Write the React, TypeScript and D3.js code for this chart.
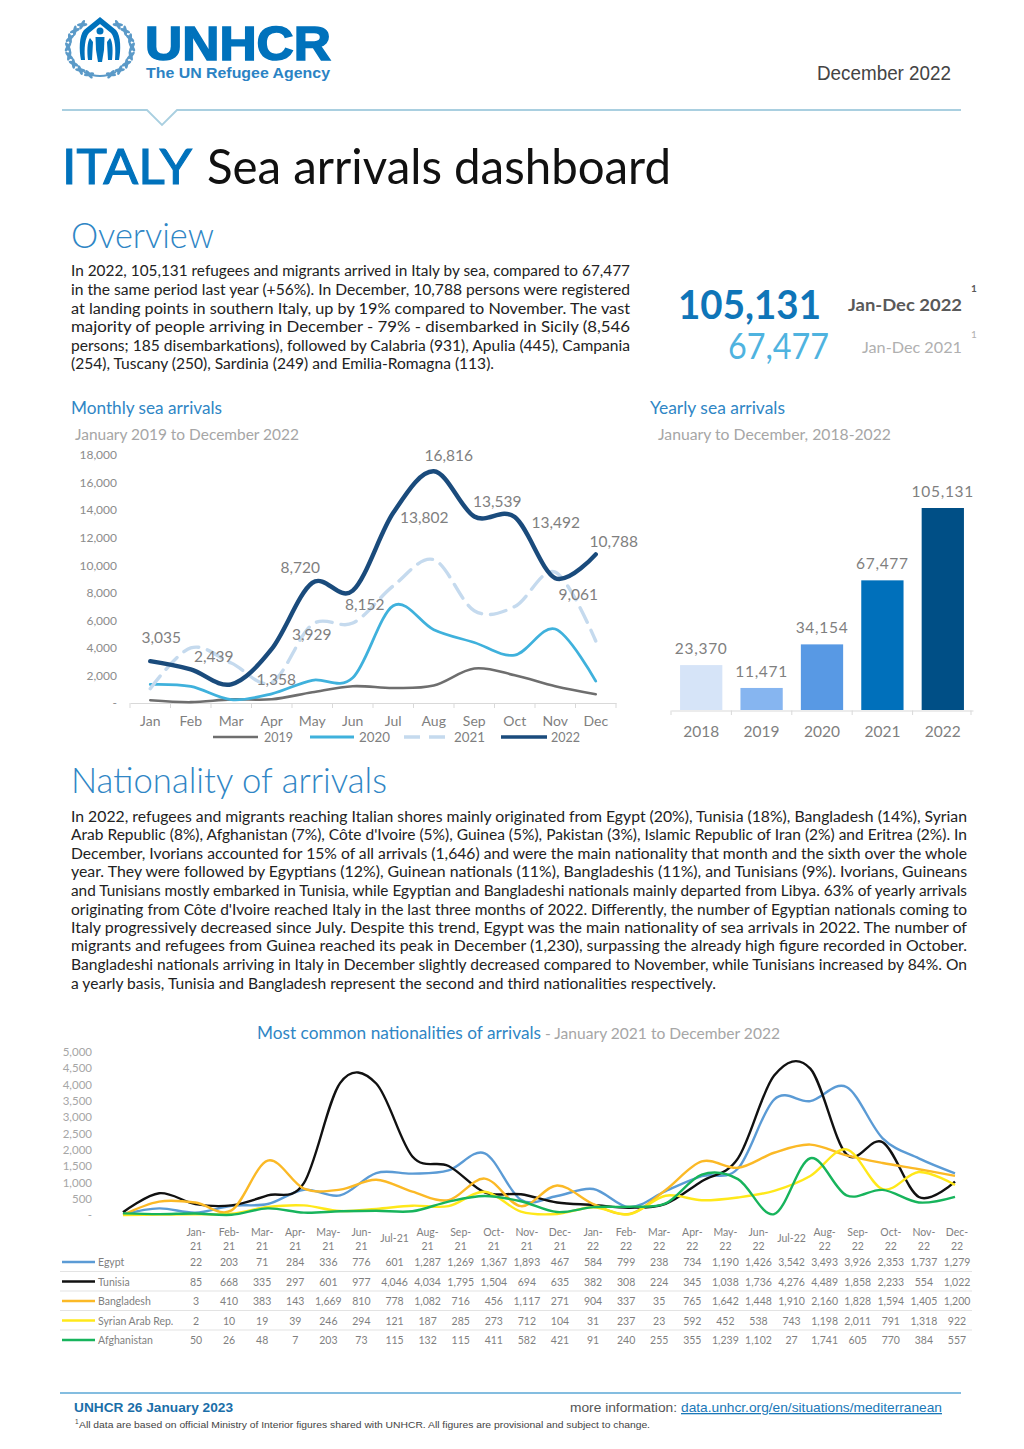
import React, { useEffect, useRef } from 'react';
import * as d3 from 'd3';

const monthNames = ['Jan', 'Feb', 'Mar', 'Apr', 'May', 'Jun', 'Jul', 'Aug', 'Sep', 'Oct', 'Nov', 'Dec'];
const arrivals2019 = [200, 60, 260, 270, 780, 1220, 1090, 1270, 2500, 2020, 1220, 640];
const arrivals2020 = [1350, 1200, 240, 670, 1650, 1830, 7060, 5320, 4390, 3480, 5370, 1590];
const arrivals2021 = [1040, 4000, 2900, 1500, 5700, 5800, 8500, 10400, 6700, 7000, 9500, 4500];
const arrivals2022 = [3035, 2439, 1358, 3929, 8720, 8152, 13802, 16816, 13539, 13492, 9061, 10788];
const monthlyLabelOffsets = [[11, -23], [23, -12], [45, -4], [40, -14], [-12, -15], [12, 14], [31, 5], [15, -15], [23, -14], [41, 6], [23, 17], [18, -12]];

const yearNames = ['2018', '2019', '2020', '2021', '2022'];
const yearlyTotals = [23370, 11471, 34154, 67477, 105131];
const yearColors = ['#d6e4f8', '#86b5f0', '#5899e4', '#0070bb', '#004f86'];

const natMonths = ['Jan-21', 'Feb-21', 'Mar-21', 'Apr-21', 'May-21', 'Jun-21', 'Jul-21', 'Aug-21', 'Sep-21', 'Oct-21', 'Nov-21', 'Dec-21',
  'Jan-22', 'Feb-22', 'Mar-22', 'Apr-22', 'May-22', 'Jun-22', 'Jul-22', 'Aug-22', 'Sep-22', 'Oct-22', 'Nov-22', 'Dec-22'];
const egypt = [22, 203, 71, 284, 336, 776, 601, 1287, 1269, 1367, 1893, 467, 584, 799, 238, 734, 1190, 1426, 3542, 3493, 3926, 2353, 1737, 1279];
const tunisia = [85, 668, 335, 297, 601, 977, 4046, 4034, 1795, 1504, 694, 635, 382, 308, 224, 345, 1038, 1736, 4276, 4489, 1858, 2233, 554, 1022];
const bangladesh = [3, 410, 383, 143, 1669, 810, 778, 1082, 716, 456, 1117, 271, 904, 337, 35, 765, 1642, 1448, 1910, 2160, 1828, 1594, 1405, 1200];
const syria = [2, 10, 19, 39, 246, 294, 121, 187, 285, 273, 712, 104, 31, 237, 23, 592, 452, 538, 743, 1198, 2011, 791, 1318, 922];
const afghanistan = [50, 26, 48, 7, 203, 73, 115, 132, 115, 411, 582, 421, 91, 240, 255, 355, 1239, 1102, 27, 1741, 605, 770, 384, 557];
const natNames = ['Egypt', 'Tunisia', 'Bangladesh', 'Syrian Arab Rep.', 'Afghanistan'];
const natColors = ['#5b9bd5', '#111111', '#fbb926', '#ffe81a', '#17b45c'];

const overviewLines = [
  'In 2022, 105,131 refugees and migrants arrived in Italy by sea, compared to 67,477',
  'in the same period last year (+56%). In December, 10,788 persons were registered',
  'at landing points in southern Italy, up by 19% compared to November. The vast',
  'majority of people arriving in December - 79% - disembarked in Sicily (8,546',
  'persons; 185 disembarkations), followed by Calabria (931), Apulia (445), Campania',
  '(254), Tuscany (250), Sardinia (249) and Emilia-Romagna (113).',
];
const nationalityLines = [
  'In 2022, refugees and migrants reaching Italian shores mainly originated from Egypt (20%), Tunisia (18%), Bangladesh (14%), Syrian',
  "Arab Republic (8%), Afghanistan (7%), Côte d'Ivoire (5%), Guinea (5%), Pakistan (3%), Islamic Republic of Iran (2%) and Eritrea (2%). In",
  'December, Ivorians accounted for 15% of all arrivals (1,646) and were the main nationality that month and the sixth over the whole',
  'year. They were followed by Egyptians (12%), Guinean nationals (11%), Bangladeshis (11%), and Tunisians (9%). Ivorians, Guineans',
  'and Tunisians mostly embarked in Tunisia, while Egyptian and Bangladeshi nationals mainly departed from Libya. 63% of yearly arrivals',
  "originating from Côte d'Ivoire reached Italy in the last three months of 2022. Differently, the number of Egyptian nationals coming to",
  'Italy progressively decreased since July. Despite this trend, Egypt was the main nationality of sea arrivals in 2022. The number of',
  'migrants and refugees from Guinea reached its peak in December (1,230), surpassing the already high figure recorded in October.',
  'Bangladeshi nationals arriving in Italy in December slightly decreased compared to November, while Tunisians increased by 84%. On',
  'a yearly basis, Tunisia and Bangladesh represent the second and third nationalities respectively.',
];

const BLUE = '#0072bc';
const HEAD = '#2f86c5';
const GREY = '#7f7f7f';
const LATO = 'Lato, sans-serif';
const ARIAL = '"Liberation Sans", Arial, sans-serif';

type Sel = d3.Selection<any, unknown, null, undefined>;
interface TextOpts { size: number; fill?: string; weight?: number | string; family?: string; width?: number; anchor?: string; deco?: string }

const put = (g: Sel, x: number, y: number, s: string, o: TextOpts) => {
  const t = g.append('text')
    .attr('x', x)
    .attr('y', y)
    .attr('font-size', o.size)
    .attr('font-family', o.family ?? LATO)
    .attr('font-weight', o.weight ?? 400)
    .attr('fill', o.fill ?? '#222')
    .attr('text-anchor', o.anchor ?? 'start')
    .text(s);
  if (o.width) t.attr('textLength', o.width).attr('lengthAdjust', 'spacingAndGlyphs');
  if (o.deco) t.attr('text-decoration', o.deco);
  return t;
};

const styleAxis = (a: Sel, size: number, fill: string) => {
  a.attr('font-family', LATO);
  a.selectAll('text').attr('font-size', size).attr('fill', fill);
};

const drawLogo = (svg: Sel) => {
  const logo = svg.append('g').attr('fill', BLUE);
  // laurel sprigs, one on each side
  const wreath = logo.append('g').attr('fill', '#5b9ac8');
  [-1, 1].forEach(side => {
    d3.range(0, 8).forEach(i => {
      const a = 0.35 + (i / 7) * 2.2; // radians up from the bottom
      const px = 100 + side * 32 * Math.sin(a);
      const py = 48 + 28 * Math.cos(a);
      const tangent = side * -((a * 180) / Math.PI);
      [-30, 30].forEach(tilt => {
        wreath.append('ellipse')
          .attr('rx', 5.2).attr('ry', 1.7)
          .attr('transform', `translate(${px},${py}) rotate(${tangent + tilt})`);
      });
    });
  });
  logo.append('path').attr('d', 'M84 72 Q100 80 116 72').attr('fill', 'none').attr('stroke', '#5b9ac8').attr('stroke-width', 2);
  // sheltering hands and the figures
  logo.append('path').attr('d', 'M100 17 L84 30 C79 36 79 50 81 60 L85 60 C84 48 85 38 89 33 L100 24 L111 33 C115 38 116 48 115 60 L119 60 C121 50 121 36 116 30 Z');
  logo.append('path').attr('d', 'M90 38 C87 42 87 52 88 60 L92 60 L93 42 Z M110 38 C113 42 113 52 112 60 L108 60 L107 42 Z');
  logo.append('circle').attr('cx', 100).attr('cy', 31).attr('r', 3.5);
  logo.append('path').attr('d', 'M95.5 37 H104.5 L104 50 L102 62 H98 L96 50 Z');
};

const drawHeader = (svg: Sel) => {
  drawLogo(svg);
  put(svg, 145, 60, 'UNHCR', { size: 49, weight: 700, family: ARIAL, fill: BLUE, width: 186 })
    .attr('stroke', BLUE).attr('stroke-width', 1.6);
  put(svg, 146, 78, 'The UN Refugee Agency', { size: 15, weight: 700, family: ARIAL, fill: '#2b83c4', width: 184 });
  put(svg, 817, 80, 'December 2022', { size: 19.5, family: ARIAL, fill: '#444', width: 134 });

  svg.append('path')
    .attr('d', 'M62 110 H147 L162 125 L177 110 H961')
    .attr('fill', 'none').attr('stroke', '#a9cfe0').attr('stroke-width', 1.8);

  put(svg, 62, 184, 'ITALY', { size: 49, fill: BLUE, width: 130 })
    .attr('stroke', BLUE).attr('stroke-width', 1.1);
  put(svg, 207, 184, 'Sea arrivals dashboard', { size: 49, fill: '#111', width: 464 });
};

const drawOverview = (svg: Sel) => {
  put(svg, 71, 248, 'Overview', { size: 35, weight: 300, fill: HEAD, width: 143 });
  const ys = [276, 295, 314, 332, 351, 369];
  overviewLines.forEach((l, i) => put(svg, 71, ys[i], l, { size: 14.5, width: i === 5 ? 423 : 559 }));

  put(svg, 678, 319, '105,131', { size: 41, weight: 700, fill: '#0f75b8', width: 143 });
  put(svg, 848, 311, 'Jan-Dec 2022', { size: 17, weight: 700, fill: '#595959', width: 114 });
  put(svg, 971, 292, '1', { size: 10, weight: 700, fill: '#595959' });
  put(svg, 728, 359, '67,477', { size: 36, fill: '#4fb3df', width: 101 });
  put(svg, 862, 353, 'Jan-Dec 2021', { size: 16, fill: '#b0b0b0', width: 100 });
  put(svg, 971, 338, '1', { size: 10, fill: '#b0b0b0' });
};

const drawMonthly = (svg: Sel) => {
  put(svg, 71, 414, 'Monthly sea arrivals', { size: 17, fill: HEAD, width: 151 });
  put(svg, 75, 440, 'January 2019 to December 2022', { size: 15.5, fill: '#a6a6a6', width: 224 });

  const x = d3.scaleBand<string>().domain(monthNames).range([130, 616]);
  const y = d3.scaleLinear().domain([0, 18000]).range([703, 455]);

  const yAxis = svg.append('g').attr('transform', 'translate(120,0)')
    .call(d3.axisLeft(y).tickValues(d3.range(0, 18001, 2000)).tickSize(0)
      .tickFormat(d => (+d === 0 ? '-' : d3.format(',')(+d))));
  yAxis.select('.domain').remove();
  styleAxis(yAxis, 12, '#8c8c8c');

  const xAxis = svg.append('g').attr('transform', 'translate(0,703)')
    .call(d3.axisBottom(x).tickSize(0).tickPadding(13));
  xAxis.select('.domain').attr('stroke', '#d9d9d9');
  styleAxis(xAxis, 14, GREY);
  svg.append('g').selectAll('line')
    .data([...monthNames.map(m => x(m) as number), 616])
    .enter().append('line')
    .attr('x1', d => d).attr('x2', d => d).attr('y1', 703).attr('y2', 708)
    .attr('stroke', '#d9d9d9');

  const line = d3.line<number>()
    .x((_, i) => (x(monthNames[i]) as number) + x.bandwidth() / 2)
    .y(d => y(d))
    .curve(d3.curveCatmullRom.alpha(0));

  const series = [
    { name: '2019', values: arrivals2019, color: '#6e6e6e', w: 2.6, dash: '', lx: [213, 258], tx: 264, tw: 29 },
    { name: '2020', values: arrivals2020, color: '#3fb1dc', w: 2.8, dash: '', lx: [310, 354], tx: 359, tw: 31 },
    { name: '2021', values: arrivals2021, color: '#c5daee', w: 3.4, dash: '16,9', lx: [404, 447], tx: 454, tw: 31 },
    { name: '2022', values: arrivals2022, color: '#1a4b7c', w: 4.4, dash: '', lx: [501, 547], tx: 551, tw: 29 },
  ];
  series.forEach(s => {
    svg.append('path').attr('d', line(s.values))
      .attr('fill', 'none').attr('stroke', s.color).attr('stroke-width', s.w)
      .attr('stroke-dasharray', s.dash).attr('stroke-linecap', 'round');
    svg.append('line').attr('x1', s.lx[0]).attr('x2', s.lx[1]).attr('y1', 737).attr('y2', 737)
      .attr('stroke', s.color).attr('stroke-width', Math.min(s.w, 3.4)).attr('stroke-dasharray', s.dash);
    put(svg, s.tx, 742, s.name, { size: 13.5, fill: GREY, width: s.tw });
  });

  arrivals2022.forEach((v, i) => {
    const [dx, dy] = monthlyLabelOffsets[i];
    put(svg, (x(monthNames[i]) as number) + x.bandwidth() / 2 + dx, y(v) + dy + 5, d3.format(',')(v),
      { size: 15.5, fill: GREY, anchor: 'middle' });
  });
};

const drawYearly = (svg: Sel) => {
  put(svg, 650, 414, 'Yearly sea arrivals', { size: 17, fill: HEAD, width: 135 });
  put(svg, 658, 440, 'January to December, 2018-2022', { size: 15.5, fill: '#a6a6a6', width: 233 });

  const x = d3.scaleBand<string>().domain(yearNames).range([671, 973]).paddingInner(0.3).paddingOuter(0.15);
  const y = d3.scaleLinear().domain([0, 105131]).range([710, 508]);

  svg.append('g').selectAll('rect')
    .data(yearlyTotals)
    .enter().append('rect')
    .attr('x', (_, i) => x(yearNames[i]) as number)
    .attr('y', d => y(d))
    .attr('width', x.bandwidth())
    .attr('height', d => y(0) - y(d))
    .attr('fill', (_, i) => yearColors[i]);

  const xAxis = svg.append('g').attr('transform', 'translate(0,710.5)')
    .call(d3.axisBottom(x).tickSize(0).tickPadding(15));
  xAxis.select('.domain').attr('stroke', '#d9d9d9');
  styleAxis(xAxis, 15.5, GREY);
  svg.append('g').selectAll('line')
    .data([...yearNames.map(n => (x(n) as number) - x.step() * 0.15), 971])
    .enter().append('line')
    .attr('x1', d => d).attr('x2', d => d).attr('y1', 710.5).attr('y2', 715)
    .attr('stroke', '#d9d9d9');

  yearlyTotals.forEach((v, i) => {
    put(svg, (x(yearNames[i]) as number) + x.bandwidth() / 2, y(v) - 11, d3.format(',')(v),
      { size: 15.5, fill: GREY, anchor: 'middle' }).attr('letter-spacing', 0.7);
  });
};

const drawNationalities = (svg: Sel) => {
  put(svg, 71, 793, 'Nationality of arrivals', { size: 35, weight: 300, fill: HEAD, width: 316 });
  const ys = [822, 840, 859, 877, 896, 915, 933, 951, 970, 989];
  nationalityLines.forEach((l, i) => put(svg, 71, ys[i], l, { size: 14.5, width: i === 9 ? 645 : 896 }));

  put(svg, 257, 1039, 'Most common nationalities of arrivals', { size: 16.5, fill: HEAD, width: 284 });
  put(svg, 545, 1039, '- January 2021 to December 2022', { size: 15, fill: '#a6a6a6', width: 235 });

  const x = d3.scalePoint<string>().domain(natMonths).range([123, 955]);
  const y = d3.scaleLinear().domain([0, 5000]).range([1215, 1052]);

  const yAxis = svg.append('g').attr('transform', 'translate(95,0)')
    .call(d3.axisLeft(y).tickValues(d3.range(0, 5001, 500)).tickSize(0)
      .tickFormat(d => (+d === 0 ? '-' : d3.format(',')(+d))));
  yAxis.select('.domain').remove();
  styleAxis(yAxis, 11.5, '#a6a6a6');

  const line = d3.line<number>()
    .x((_, i) => x(natMonths[i]) as number)
    .y(d => y(d))
    .curve(d3.curveCatmullRom.alpha(0));

  const natValues = [egypt, tunisia, bangladesh, syria, afghanistan];
  natValues.forEach((vals, k) => {
    svg.append('path').attr('d', line(vals))
      .attr('fill', 'none').attr('stroke', natColors[k]).attr('stroke-width', 2.4);
  });

  // data table under the lines, its columns do not line up with the points
  const col = d3.scalePoint<string>().domain(natMonths).range([196, 957]);
  natMonths.forEach(m => {
    const [mon, yr] = m.split('-');
    if (mon === 'Jul') {
      put(svg, col(m) as number, 1242, m, { size: 10.5, fill: GREY, anchor: 'middle' });
    } else {
      put(svg, col(m) as number, 1236, `${mon}-`, { size: 10.5, fill: GREY, anchor: 'middle' });
      put(svg, col(m) as number, 1250, yr, { size: 10.5, fill: GREY, anchor: 'middle' });
    }
  });
  const rowY = d3.scalePoint<string>().domain(natNames).range([1262, 1340]);
  natNames.forEach((name, k) => {
    const ry = rowY(name) as number;
    svg.append('line').attr('x1', 62).attr('x2', 95).attr('y1', ry).attr('y2', ry)
      .attr('stroke', natColors[k]).attr('stroke-width', 2.4);
    put(svg, 98, ry + 4, name, { size: 10.5, fill: GREY });
    natValues[k].forEach((v, j) => {
      put(svg, col(natMonths[j]) as number, ry + 4, d3.format(',')(v), { size: 10.5, fill: GREY, anchor: 'middle' });
    });
    if (k < natNames.length - 1) {
      svg.append('line').attr('x1', 60).attr('x2', 972).attr('y1', ry + 9.5).attr('y2', ry + 9.5)
        .attr('stroke', '#e3e3e3');
    }
  });
};

const drawFooter = (svg: Sel) => {
  svg.append('line').attr('x1', 60).attr('x2', 961).attr('y1', 1393).attr('y2', 1393)
    .attr('stroke', '#84bde0').attr('stroke-width', 1.8);
  put(svg, 74, 1412, 'UNHCR 26 January 2023', { size: 12.5, weight: 700, family: ARIAL, fill: '#1a6ea8', width: 159 });
  put(svg, 570, 1412, 'more information:', { size: 13, family: ARIAL, fill: '#555', width: 107 });
  put(svg, 681, 1412, 'data.unhcr.org/en/situations/mediterranean', { size: 13, family: ARIAL, fill: '#1a78b8', width: 261, deco: 'underline' });
  put(svg, 75, 1424, '1', { size: 6.5, family: ARIAL, fill: '#444' });
  put(svg, 79, 1428, 'All data are based on official Ministry of Interior figures shared with UNHCR. All figures are provisional and subject to change.',
    { size: 9.5, family: ARIAL, fill: '#444', width: 571 });
};

const App: React.FC = () => {
  const svgRef = useRef<SVGSVGElement>(null);

  useEffect(() => {
    if (svgRef.current) {
      const svg = d3.select(svgRef.current) as unknown as Sel;
      svg.selectAll('*').remove();
      drawHeader(svg);
      drawOverview(svg);
      drawMonthly(svg);
      drawYearly(svg);
      drawNationalities(svg);
      drawFooter(svg);
    }
  }, []);

  return <svg ref={svgRef} width={1024} height={1449} style={{ position: 'absolute', top: 0, left: 0, background: '#fff' }} />;
};

export default App;
